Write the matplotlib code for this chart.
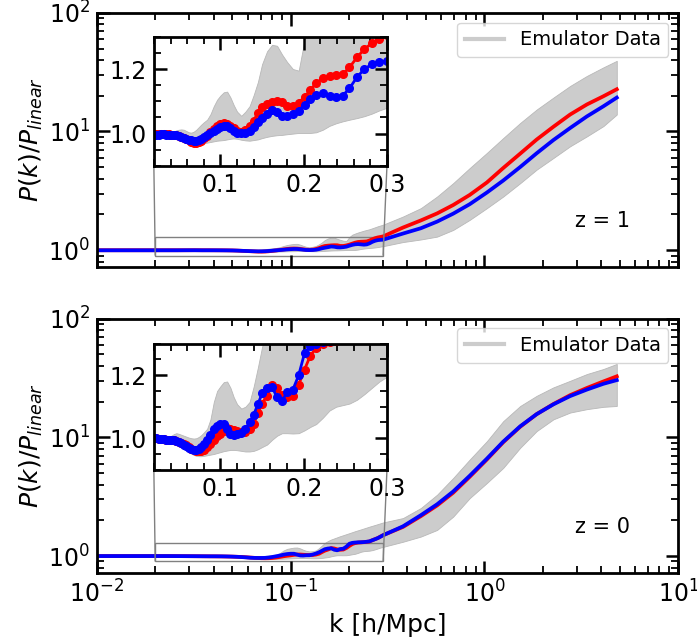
import numpy as np
import matplotlib
matplotlib.use("Agg")
import matplotlib.pyplot as plt
from matplotlib.lines import Line2D
from matplotlib.ticker import MultipleLocator, AutoMinorLocator
from mpl_toolkits.axes_grid1.inset_locator import mark_inset

# wavenumbers [h/Mpc]
k_low = [0.010, 0.012, 0.014, 0.016, 0.018]
k_sim = [0.020, 0.023, 0.026, 0.029, 0.032, 0.035, 0.038, 0.041, 0.044, 0.047,
         0.050, 0.053, 0.056, 0.059, 0.062, 0.065, 0.068, 0.071, 0.074, 0.077,
         0.080, 0.084, 0.088, 0.092, 0.096, 0.100, 0.104, 0.108, 0.112, 0.116,
         0.120, 0.125, 0.130, 0.135, 0.140, 0.145, 0.150, 0.156, 0.162, 0.168,
         0.174, 0.180, 0.187, 0.194, 0.201, 0.208, 0.215, 0.223, 0.231, 0.239,
         0.247, 0.255, 0.264, 0.273, 0.282, 0.291, 0.300]
k_hi = [0.38, 0.47, 0.57, 0.69, 0.84, 1.03, 1.25, 1.53, 1.86, 2.27, 2.77, 3.38, 4.11, 4.82]

# ---- z = 1 ----
z1_red_low = [0.998, 0.998, 0.998, 0.998, 0.998]
z1_blue_low = [0.997, 0.997, 0.997, 0.997, 0.997]
z1_red = [0.998, 0.998, 0.998, 0.998, 0.999, 0.998, 0.998, 0.997, 0.997, 0.996,
          0.994, 0.991, 0.987, 0.983, 0.979, 0.975, 0.972, 0.971, 0.973, 0.978,
          0.985, 0.994, 1.004, 1.014, 1.023, 1.030, 1.032, 1.030, 1.024, 1.016,
          1.009, 1.006, 1.010, 1.022, 1.040, 1.065, 1.083, 1.091, 1.097, 1.100,
          1.099, 1.085, 1.084, 1.096, 1.113, 1.135, 1.156, 1.172, 1.177, 1.180,
          1.184, 1.205, 1.236, 1.262, 1.280, 1.292, 1.305]
z1_blue = [0.997, 0.997, 0.997, 0.998, 0.998, 0.997, 0.997, 0.997, 0.996, 0.995,
           0.994, 0.991, 0.987, 0.984, 0.981, 0.979, 0.977, 0.978, 0.980, 0.984,
           0.989, 0.996, 1.002, 1.008, 1.014, 1.019, 1.023, 1.022, 1.016, 1.009,
           1.003, 1.001, 1.003, 1.008, 1.020, 1.036, 1.048, 1.060, 1.073, 1.068,
           1.056, 1.054, 1.060, 1.070, 1.090, 1.108, 1.120, 1.125, 1.118, 1.112,
           1.118, 1.140, 1.175, 1.200, 1.215, 1.221, 1.225]
z1_lo = [0.995, 0.995, 0.995, 0.995, 0.995, 0.994, 0.994, 0.993, 0.992, 0.990,
         0.988, 0.985, 0.982, 0.978, 0.974, 0.970, 0.967, 0.966, 0.967, 0.968,
         0.970, 0.972, 0.974, 0.976, 0.978, 0.979, 0.980, 0.982, 0.984, 0.985,
         0.984, 0.981, 0.979, 0.978, 0.980, 0.982, 0.986, 0.990, 0.993, 0.995,
         0.996, 0.998, 1.000, 1.002, 1.002, 1.002, 1.004, 1.012, 1.024, 1.032,
         1.038, 1.043, 1.048, 1.054, 1.062, 1.072, 1.080]
z1_hi = [1.002, 1.002, 1.002, 1.002, 1.003, 1.003, 1.004, 1.005, 1.007, 1.010,
         1.012, 1.013, 1.012, 1.008, 1.004, 1.003, 1.006, 1.012, 1.020, 1.028,
         1.035, 1.043, 1.060, 1.085, 1.105, 1.118, 1.128, 1.130, 1.112, 1.088,
         1.068, 1.055, 1.068, 1.085, 1.120, 1.160, 1.215, 1.255, 1.275, 1.272,
         1.245, 1.222, 1.200, 1.195, 1.290, 1.350, 1.380, 1.410, 1.435, 1.460,
         1.480, 1.500, 1.530, 1.560, 1.590, 1.615, 1.640]
z1_red_hi = [1.55, 1.78, 2.04, 2.40, 2.92, 3.72, 4.92, 6.51, 8.55, 10.96, 13.9, 16.9, 19.8, 22.7]
z1_blue_hi = [1.38, 1.53, 1.74, 2.03, 2.44, 3.06, 3.86, 5.02, 6.55, 8.47, 10.7, 13.4, 16.3, 19.3]
z1_lo_hi = [1.17, 1.23, 1.30, 1.48, 1.80, 2.26, 2.83, 3.67, 4.77, 5.98, 7.51, 9.1, 11.1, 13.9]
z1_hi_hi = [1.92, 2.26, 2.83, 3.67, 4.92, 6.6, 8.8, 11.8, 15.3, 19.3, 24.2, 29.4, 34.7, 39.4]

# ---- z = 0 ----
z0_red_low = [1.000, 1.000, 1.000, 1.000, 1.000]
z0_blue_low = [1.000, 1.000, 1.000, 1.000, 1.000]
z0_red = [1.000, 1.000, 0.999, 0.998, 0.997, 0.996, 0.995, 0.994, 0.993, 0.991,
          0.989, 0.986, 0.982, 0.977, 0.971, 0.966, 0.962, 0.959, 0.958, 0.959,
          0.963, 0.972, 0.983, 0.996, 1.006, 1.014, 1.024, 1.031, 1.030, 1.026,
          1.022, 1.020, 1.021, 1.030, 1.046, 1.080, 1.110, 1.135, 1.168, 1.158,
          1.138, 1.130, 1.135, 1.170, 1.218, 1.262, 1.286, 1.300, 1.304, 1.310,
          1.318, 1.326, 1.360, 1.390, 1.420, 1.460, 1.500]
z0_blue = [1.000, 1.000, 0.999, 0.998, 0.997, 0.996, 0.995, 0.995, 0.994, 0.992,
           0.989, 0.985, 0.980, 0.974, 0.968, 0.965, 0.964, 0.964, 0.966, 0.972,
           0.981, 0.995, 1.010, 1.028, 1.040, 1.046, 1.046, 1.028, 1.012, 1.010,
           1.015, 1.016, 1.030, 1.050, 1.075, 1.108, 1.142, 1.158, 1.162, 1.130,
           1.118, 1.146, 1.154, 1.200, 1.270, 1.292, 1.300, 1.305, 1.308, 1.312,
           1.320, 1.330, 1.360, 1.388, 1.418, 1.458, 1.498]
z0_lo = [0.995, 0.995, 0.994, 0.993, 0.992, 0.991, 0.990, 0.988, 0.986, 0.983,
         0.979, 0.974, 0.968, 0.962, 0.956, 0.951, 0.947, 0.944, 0.943, 0.943,
         0.944, 0.946, 0.948, 0.950, 0.953, 0.956, 0.959, 0.961, 0.963, 0.963,
         0.962, 0.960, 0.958, 0.958, 0.960, 0.965, 0.972, 0.980, 0.995, 1.008,
         1.016, 1.016, 1.015, 1.016, 1.025, 1.036, 1.045, 1.065, 1.088, 1.100,
         1.105, 1.110, 1.122, 1.140, 1.160, 1.180, 1.195]
z0_hi = [1.004, 1.004, 1.004, 1.003, 1.003, 1.003, 1.004, 1.008, 1.013, 1.016,
         1.014, 1.011, 1.008, 1.005, 1.002, 1.000, 0.999, 1.000, 1.004, 1.010,
         1.018, 1.030, 1.060, 1.115, 1.150, 1.165, 1.178, 1.180, 1.160, 1.130,
         1.108, 1.094, 1.100, 1.115, 1.165, 1.225, 1.290, 1.340, 1.380, 1.410,
         1.440, 1.470, 1.500, 1.530, 1.560, 1.590, 1.620, 1.650, 1.680, 1.710,
         1.740, 1.770, 1.800, 1.830, 1.860, 1.890, 1.920]
z0_red_hi = [1.76, 2.17, 2.67, 3.42, 4.66, 6.52, 9.1, 12.3, 15.7, 19.1, 22.7, 26.1, 29.6, 32.7]
z0_blue_hi = [1.78, 2.21, 2.73, 3.50, 4.75, 6.62, 9.2, 12.4, 15.7, 19.0, 22.3, 25.3, 28.3, 30.4]
z0_lo_hi = [1.32, 1.46, 1.66, 2.15, 3.08, 4.13, 5.53, 8.18, 11.3, 14.2, 16.2, 17.3, 18.1, 18.4]
z0_hi_hi = [2.09, 2.54, 3.29, 4.55, 6.51, 9.3, 13.7, 18.4, 22.4, 26.4, 30.0, 34.2, 37.7, 41.6]

band_color = '0.8'


def style_axes(ax):
    ax.tick_params(which='both', direction='in', top=True, right=True)
    ax.tick_params(which='major', length=9, width=1.8, labelsize=17, pad=5)
    ax.tick_params(which='minor', length=5, width=1.3)
    for sp in ax.spines.values():
        sp.set_linewidth(2)


def draw_panel(ax, red_low, blue_low, red, blue, lo, hi,
               red_hi, blue_hi, lo_hi, hi_hi, zlabel, inset_rect):
    k_all = np.concatenate([k_low, k_sim, k_hi])
    k_band = np.concatenate([k_sim, k_hi])
    red_all = np.concatenate([red_low, red, red_hi])
    blue_all = np.concatenate([blue_low, blue, blue_hi])

    ax.fill_between(k_band, np.concatenate([lo, lo_hi]), np.concatenate([hi, hi_hi]),
                    facecolor=band_color, edgecolor='0.72', lw=0.6)
    ax.plot(k_all, red_all, color='red', lw=2.7)
    ax.plot(k_all, blue_all, color='blue', lw=2.7)
    ax.set_xscale('log')
    ax.set_yscale('log')
    ax.set_xlim(1e-2, 1e1)
    ax.set_ylim(0.72, 100)
    ax.set_ylabel(r'$P(k)/P_{linear}$', fontsize=18, labelpad=2)
    style_axes(ax)

    ax.legend(handles=[Line2D([], [], color=band_color, lw=3)],
              labels=['Emulator Data'], loc='upper right', fontsize=14)
    ax.text(0.87, 0.18, zlabel, transform=ax.transAxes, fontsize=15,
            ha='center', va='center')

    # zoom on the small-scale wiggles
    axins = ax.inset_axes(inset_rect)
    axins.fill_between(k_sim, lo, hi, facecolor=band_color, edgecolor='0.72', lw=0.6)
    axins.plot(k_sim, red, 'o-', color='red', ms=5.5, lw=2)
    axins.plot(k_sim, blue, 'o-', color='blue', ms=5.5, lw=2)
    axins.set_xlim(0.02, 0.3)
    axins.set_ylim(0.9, 1.3)
    axins.xaxis.set_major_locator(MultipleLocator(0.1))
    axins.xaxis.set_minor_locator(AutoMinorLocator(5))
    axins.yaxis.set_major_locator(MultipleLocator(0.2))
    axins.yaxis.set_minor_locator(AutoMinorLocator(4))
    style_axes(axins)
    mark_inset(ax, axins, loc1=3, loc2=4, fc='none', ec='0.5', lw=1)
    return axins


fig = plt.figure(figsize=(6.97, 6.42), dpi=100)
ax1 = fig.add_axes([0.139, 0.584, 0.834, 0.396])
ax2 = fig.add_axes([0.139, 0.1075, 0.834, 0.396], sharex=ax1)

draw_panel(ax1, z1_red_low, z1_blue_low, z1_red, z1_blue, z1_lo, z1_hi,
           z1_red_hi, z1_blue_hi, z1_lo_hi, z1_hi_hi, 'z = 1',
           [0.098, 0.398, 0.401, 0.508])
draw_panel(ax2, z0_red_low, z0_blue_low, z0_red, z0_blue, z0_lo, z0_hi,
           z0_red_hi, z0_blue_hi, z0_lo_hi, z0_hi_hi, 'z = 0',
           [0.098, 0.406, 0.401, 0.496])

ax1.tick_params(labelbottom=False)
ax2.set_xlabel('k [h/Mpc]', fontsize=18)

fig.savefig('out.png', dpi=100)
